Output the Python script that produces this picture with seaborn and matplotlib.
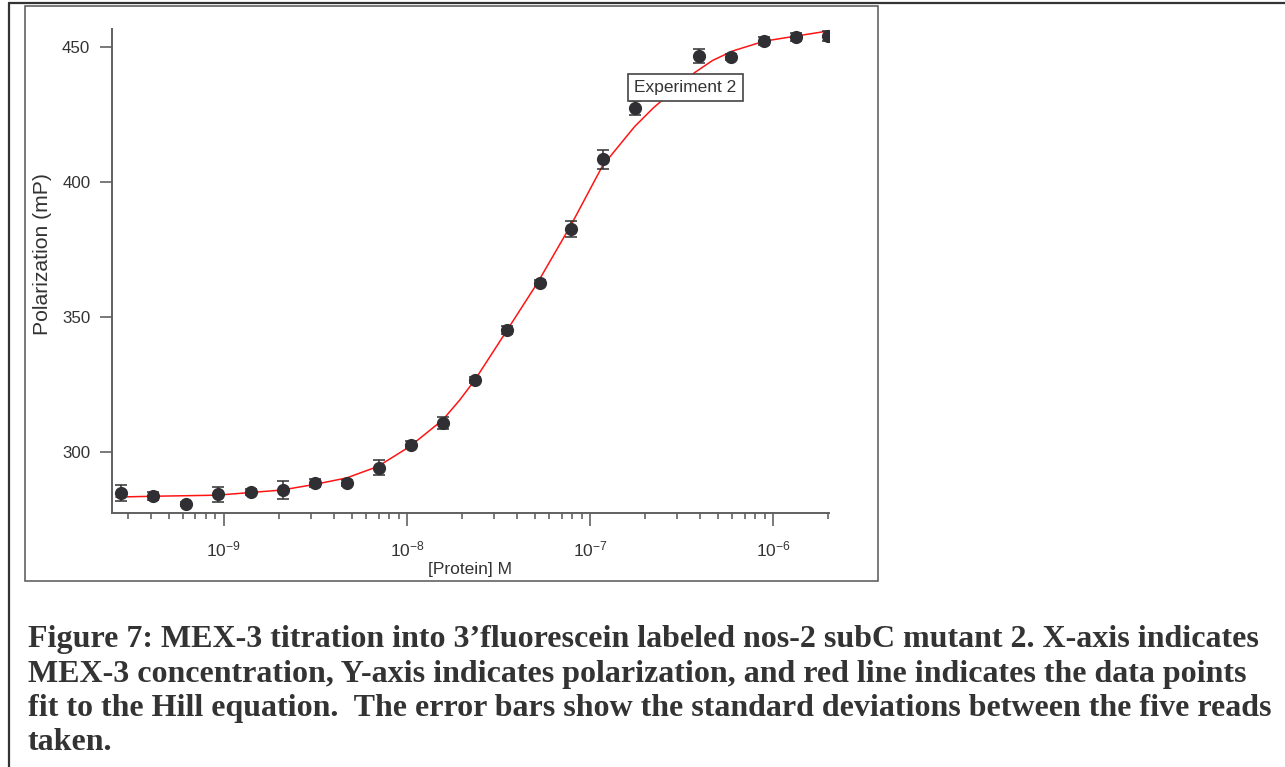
import numpy as np
import pandas as pd
import matplotlib
matplotlib.use("Agg")
import matplotlib.pyplot as plt
import seaborn as sns
from matplotlib.lines import Line2D
from matplotlib.patches import Rectangle
from matplotlib.ticker import LogLocator, NullFormatter, FixedLocator, FixedFormatter

# ---- data ----
conc = [2.73e-10, 4.09e-10, 6.2e-10, 9.3e-10, 1.4e-9, 2.1e-9, 3.14e-9, 4.7e-9,
        7.0e-9, 1.05e-8, 1.57e-8, 2.36e-8, 3.5e-8, 5.3e-8, 7.9e-8, 1.18e-7,
        1.77e-7, 2.63e-7, 3.94e-7, 5.9e-7, 8.9e-7, 1.34e-6, 2.0e-6]
polarization = [284.8, 283.7, 280.7, 284.4, 285.2, 285.9, 288.5, 288.5,
                294.1, 302.6, 310.7, 326.7, 345.2, 362.6, 382.6, 408.5,
                427.4, 435.0, 446.7, 446.3, 452.2, 453.7, 454.1]
std_dev = [2.8, 1.5, 0.6, 2.8, 1.0, 3.3, 1.5, 1.0, 2.8, 1.3, 2.2, 1.0,
           1.5, 1.0, 3.0, 3.5, 2.5, 2.0, 2.5, 1.0, 1.5, 1.5, 2.0]

# Hill fit curve
fit_conc = [2.57e-10, 4.10e-10, 9.16e-10, 2.07e-9, 3.14e-9, 4.69e-9, 6.92e-9,
            1.035e-8, 1.57e-8, 1.94e-8, 2.34e-8, 3.50e-8, 5.16e-8, 7.92e-8,
            1.17e-7, 1.75e-7, 2.22e-7, 3.72e-7, 4.66e-7, 5.98e-7, 8.95e-7,
            1.34e-6, 1.97e-6]
fit_pol = [283.3, 283.6, 284.0, 285.9, 288.0, 290.4, 294.6, 302.0, 311.9,
           319.2, 326.5, 344.8, 362.6, 384.4, 406.0, 420.5, 427.5, 440.5,
           445.0, 448.5, 452.2, 454.1, 455.9]

y_ticks = [300, 350, 400, 450]
x_ticks = [1e-9, 1e-8, 1e-7, 1e-6]
x_tick_labels = [r"$\mathdefault{10^{-9}}$", r"$\mathdefault{10^{-8}}$",
                 r"$\mathdefault{10^{-7}}$", r"$\mathdefault{10^{-6}}$"]
x_label = "[Protein] M"
y_label = "Polarization (mP)"
box_label = "Experiment 2"
caption = [
    "Figure 7: MEX-3 titration into 3\u2019fluorescein labeled nos-2 subC mutant 2. X-axis indicates",
    "MEX-3 concentration, Y-axis indicates polarization, and red line indicates the data points",
    "fit to the Hill equation.  The error bars show the standard deviations between the five reads",
    "taken.",
]

df = pd.DataFrame({"conc": conc, "pol": polarization, "sd": std_dev})
df_fit = pd.DataFrame({"conc": fit_conc, "pol": fit_pol})

sns.set_theme(style="ticks")
plt.rcParams['font.family'] = ['Liberation Sans', 'DejaVu Sans']
plt.rcParams['mathtext.fontset'] = 'custom'
plt.rcParams['mathtext.rm'] = 'Liberation Sans'
plt.rcParams['mathtext.it'] = 'Liberation Sans:italic'
plt.rcParams['mathtext.bf'] = 'Liberation Sans:bold'

W, H = 1285, 767
fig = plt.figure(figsize=(W / 100, H / 100), dpi=100)
fig.patch.set_facecolor("white")
ax = fig.add_axes([112 / W, 1 - 513 / H, (829 - 112) / W, (513 - 29) / H])
ax.set_facecolor("white")

ax.set_xscale("log")
sns.lineplot(data=df_fit, x="conc", y="pol", color="#ff1414", lw=1.1, ax=ax,
             zorder=2, sort=True)
ax.errorbar(df["conc"], df["pol"], yerr=df["sd"], fmt="none", ecolor="#303030",
            elinewidth=1.1, capsize=4.5, capthick=1.1, zorder=3)
sns.scatterplot(data=df, x="conc", y="pol", s=90, color="#2f2f34",
                edgecolor="#2f2f34", linewidth=0, ax=ax, zorder=4)

ax.set_xlim(2.45e-10, 2.02e-6)
ax.set_ylim(277.4, 456.7)
ax.set_yticks(y_ticks)
ax.xaxis.set_major_locator(FixedLocator(x_ticks))
ax.xaxis.set_major_formatter(FixedFormatter(x_tick_labels))
ax.xaxis.set_minor_locator(LogLocator(base=10, subs=np.arange(2, 10), numticks=20))
ax.xaxis.set_minor_formatter(NullFormatter())

for s in ["top", "right"]:
    ax.spines[s].set_visible(False)
for s in ["left", "bottom"]:
    ax.spines[s].set_color("#606060")
    ax.spines[s].set_linewidth(1.4)

ax.tick_params(axis="x", which="major", length=9, width=1.1, color="#555555",
               labelsize=12.5, labelcolor="#333333", pad=10, direction="out")
ax.tick_params(axis="x", which="minor", length=4.5, width=1.1, color="#555555",
               direction="out")
ax.tick_params(axis="y", which="major", length=8.6, width=1.1, color="#555555",
               labelsize=12.2, labelcolor="#333333", pad=7, direction="out")

ax.set_xlabel(x_label, fontsize=12.5, color="#333333")
ax.set_ylabel(y_label, fontsize=15.2, color="#333333")
ax.xaxis.set_label_coords(0.5, -0.101)
ax.yaxis.set_label_coords(-0.084, 0.535)

ax.text(0.80, 0.879, box_label, transform=ax.transAxes, ha="center", va="center",
        fontsize=12.5, color="#333333", zorder=10,
        bbox=dict(boxstyle="square,pad=0.35", fc="white", ec="#444444", lw=1.2))

# inner frame around the plot
fig.patches.append(Rectangle((25 / W, 1 - 581 / H), (878 - 25) / W, (581 - 6) / H,
                             transform=fig.transFigure, fill=False,
                             ec="#555555", lw=1.1))
# outer page border (left and top)
fig.lines.append(Line2D([9 / W, 9 / W], [0, 1 - 3 / H], transform=fig.transFigure,
                        color="#333333", lw=1.6))
fig.lines.append(Line2D([9 / W, 1], [1 - 3 / H, 1 - 3 / H], transform=fig.transFigure,
                        color="#333333", lw=1.6))

baselines = [647, 682, 716, 750]
for line, yb in zip(caption, baselines):
    fig.text(28 / W, 1 - yb / H, line, fontsize=23, fontweight="bold",
             family="Liberation Serif", color="#333333", va="baseline", ha="left")

fig.savefig("out.png", dpi=100, facecolor="white")
